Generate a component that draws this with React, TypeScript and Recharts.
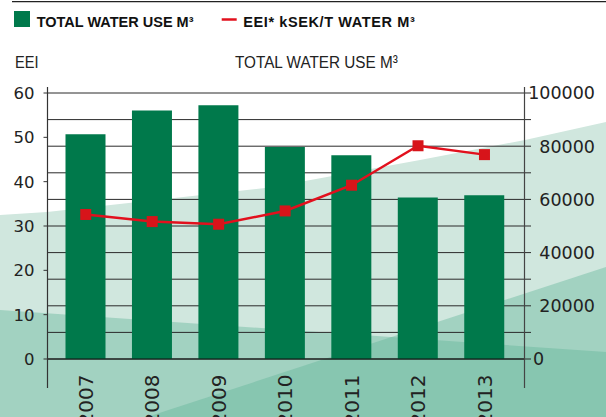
import React from 'react';
import { ComposedChart, Bar, Line, XAxis, YAxis, CartesianGrid } from 'recharts';

// ---- data ----
const years = ['2007', '2008', '2009', '2010', '2011', '2012', '2013'];
const totalWaterUse = [84500, 93400, 95400, 79700, 76600, 60700, 61600];
const eeiValues = [32.6, 31.0, 30.4, 33.4, 39.2, 48.1, 46.1];
const leftTicks = [0, 10, 20, 30, 40, 50, 60];
const rightTicks = [0, 10000, 20000, 30000, 40000, 50000, 60000, 70000, 80000, 90000, 100000];
const rightLabelTicks = [0, 20000, 40000, 60000, 80000, 100000];

const legendBarLabel = 'TOTAL WATER USE M³';
const legendLineLabel = 'EEI* kSEK/T WATER M³';
const leftTitle = 'EEI';
const rightTitle = 'TOTAL WATER USE M³';

const data = years.map((y, i) => ({ year: y, water: totalWaterUse[i], eei: eeiValues[i] }));

// ---- layout ----
const W = 606;
const H = 417;
const TOP = 93;
const LEFT_W = 48;
const RIGHT_W = 82;
const X_H = 58;
const plotLeft = LEFT_W;
const plotRight = W - RIGHT_W;

const BAR_COLOR = '#00794b';
const RED = '#e2101d';
const AXIS_FONT = '"DejaVu Sans", Verdana, sans-serif';
const TITLE_FONT = '"Liberation Sans", Arial, sans-serif';

const LeftTick = (p: any) => (
  <text x={p.x} y={p.y} dy="0.36em" textAnchor="end" fontFamily={AXIS_FONT} fontSize={16.5} fill="#222">
    {p.payload.value}
  </text>
);

const RightTick = (p: any) => {
  const v = p.payload.value;
  if (!rightLabelTicks.includes(v)) return <g />;
  const zero = v === 0;
  return (
    <text
      x={zero ? p.x : p.x + 62}
      y={p.y}
      dy="0.36em"
      textAnchor={zero ? 'start' : 'end'}
      fontFamily={AXIS_FONT}
      fontSize={17.5}
      fill="#222"
    >
      {v}
    </text>
  );
};

const YearTick = (p: any) => (
  <text
    x={p.x}
    y={p.y}
    dy="0.36em"
    textAnchor="end"
    transform={`rotate(-90 ${p.x} ${p.y})`}
    fontFamily={AXIS_FONT}
    fontSize={20}
    fill="#222"
  >
    {p.payload.value}
  </text>
);

const SquareDot = (p: any) => {
  const s = 11;
  if (p.cx == null || p.cy == null) return <g />;
  return <rect x={p.cx - s / 2} y={p.cy - s / 2} width={s} height={s} fill="#d7141a" />;
};

export default function App() {
  return (
    <div style={{ position: 'absolute', left: 0, top: 0, width: W, height: H, background: '#fff', overflow: 'hidden' }}>
      {/* decorative background */}
      <svg width={W} height={H} style={{ position: 'absolute', left: 0, top: 0 }}>
        <polygon
          points="0,215 47,212 265,188 305,181 420,160 525,140 606,122 606,417 0,417"
          fill="#d0e7de"
        />
        <polygon points="0,310 606,352 606,417 0,417" fill="rgba(98,181,152,0.42)" />
        <polygon points="147,417 606,267 606,417" fill="rgba(98,181,152,0.42)" />
      </svg>

      <div style={{ position: 'absolute', left: 0, top: 0 }}>
        <ComposedChart width={W} height={H} data={data} margin={{ top: TOP, right: 0, bottom: 0, left: 0 }}>
          <CartesianGrid yAxisId="right" vertical={false} stroke="#2a2a2a" strokeWidth={1} />
          <XAxis
            dataKey="year"
            height={X_H}
            padding={{ left: 4.5, right: 6.3 }}
            tickLine={false}
            tickSize={0}
            tickMargin={15.5}
            axisLine={{ stroke: '#111', strokeWidth: 1.2 }}
            tick={<YearTick />}
            interval={0}
          />
          <YAxis
            yAxisId="left"
            orientation="left"
            width={LEFT_W}
            domain={[0, 60]}
            ticks={leftTicks}
            interval={0}
            axisLine={false}
            tickSize={4.5}
            tickMargin={9}
            tickLine={{ stroke: '#333' }}
            tick={<LeftTick />}
          />
          <YAxis
            yAxisId="right"
            orientation="right"
            width={RIGHT_W}
            domain={[0, 100000]}
            ticks={rightTicks}
            interval={0}
            axisLine={false}
            tickSize={7}
            tickMargin={2}
            tickLine={{ stroke: '#2a2a2a' }}
            tick={<RightTick />}
          />
          <Bar yAxisId="right" dataKey="water" fill={BAR_COLOR} barSize={40} isAnimationActive={false} />
          <Line
            yAxisId="left"
            dataKey="eei"
            stroke={RED}
            strokeWidth={2.5}
            dot={<SquareDot />}
            activeDot={false}
            isAnimationActive={false}
          />
        </ComposedChart>
      </div>

      {/* overlay: legend, titles, extended axis lines */}
      <svg width={W} height={H} style={{ position: 'absolute', left: 0, top: 0, pointerEvents: 'none' }}>
        <line x1={12} x2={W} y1={1.6} y2={1.6} stroke="#222" strokeWidth={1.4} />
        <rect x={14} y={11} width={16} height={16} fill={BAR_COLOR} />
        <text x={36.7} y={27.3} fontFamily={TITLE_FONT} fontWeight="bold" fontSize={14.5} fill="#111">
          {legendBarLabel}
        </text>
        <line x1={221.7} x2={236.7} y1={19.5} y2={19.5} stroke={RED} strokeWidth={2.5} />
        <text x={243.3} y={27.3} fontFamily={TITLE_FONT} fontWeight="bold" fontSize={14.5} fill="#111" letterSpacing={0.6}>
          {legendLineLabel}
        </text>
        <text transform="translate(15,68.3) scale(0.85,1)" fontFamily={TITLE_FONT} fontSize={17.2} fill="#222">
          {leftTitle}
        </text>
        <text transform="translate(235,68.3) scale(0.89,1)" fontFamily={TITLE_FONT} fontSize={17.2} fill="#222">
          {rightTitle}
        </text>
        <line x1={plotLeft - 0.5} x2={plotLeft - 0.5} y1={87} y2={388} stroke="#333" strokeWidth={1.2} />
        <line x1={plotRight + 0.5} x2={plotRight + 0.5} y1={87} y2={388} stroke="#444" strokeWidth={1.2} />
      </svg>
    </div>
  );
}
